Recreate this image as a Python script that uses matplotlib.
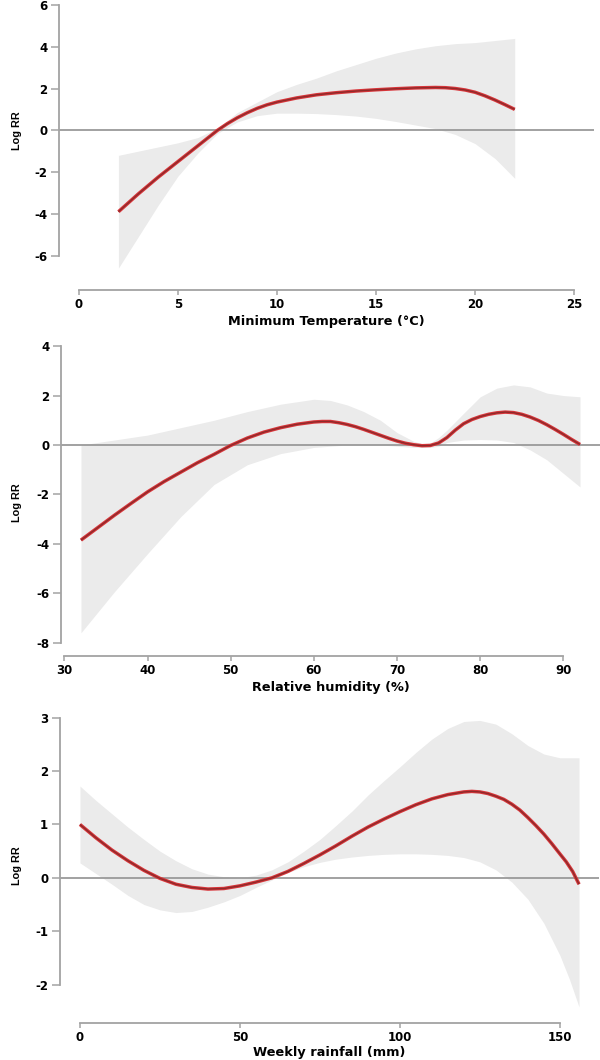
import matplotlib
matplotlib.use("Agg")
import matplotlib.pyplot as plt

# --- data ---

# minimum temperature (deg C): fitted curve
temp_x = [2, 3, 4, 5, 6, 7, 7.5, 8, 8.5, 9, 9.5, 10, 11, 12, 13, 14, 15, 16,
          17, 18, 18.5, 19, 19.5, 20, 20.5, 21, 21.5, 22]
temp_fit = [-3.9, -3.05, -2.25, -1.5, -0.75, 0.0, 0.32, 0.6, 0.84, 1.05, 1.22,
            1.35, 1.55, 1.7, 1.8, 1.88, 1.94, 1.99, 2.03, 2.05, 2.04, 2.0,
            1.93, 1.82, 1.65, 1.45, 1.23, 1.0]
# confidence band
temp_band_x = [2, 3, 4, 5, 6, 7, 8, 9, 10, 11, 12, 13, 14, 15, 16, 17, 18,
               19, 20, 21, 22]
temp_low = [-6.6, -5.1, -3.6, -2.2, -1.1, -0.15, 0.4, 0.7, 0.82, 0.82, 0.8,
            0.75, 0.68, 0.57, 0.42, 0.25, 0.08, -0.2, -0.64, -1.35, -2.3]
temp_up = [-1.2, -1.0, -0.8, -0.6, -0.35, 0.1, 0.85, 1.35, 1.85, 2.2, 2.5,
           2.85, 3.15, 3.45, 3.7, 3.9, 4.05, 4.15, 4.2, 4.3, 4.4]

# relative humidity (%)
hum_x = [32, 34, 36, 38, 40, 42, 44, 46, 48, 50, 52, 54, 56, 58, 60, 61, 62,
         63, 64, 65, 66, 67, 68, 69, 70, 71, 72, 73, 74, 75, 76, 77, 78, 79,
         80, 81, 82, 83, 84, 85, 86, 87, 88, 89, 90, 91, 92]
hum_fit = [-3.85, -3.35, -2.85, -2.37, -1.9, -1.48, -1.1, -0.72, -0.38, -0.02,
           0.28, 0.52, 0.7, 0.84, 0.93, 0.95, 0.95, 0.9, 0.83, 0.74, 0.63,
           0.51, 0.39, 0.27, 0.16, 0.07, 0.01, -0.03, -0.02, 0.08, 0.3, 0.6,
           0.86, 1.03, 1.15, 1.24, 1.3, 1.33, 1.31, 1.24, 1.13, 0.99, 0.82,
           0.63, 0.43, 0.22, 0.02]
hum_band_x = [32, 36, 40, 44, 48, 52, 56, 60, 62, 64, 66, 68, 70, 72, 73, 74,
              75, 76, 78, 80, 82, 84, 86, 88, 90, 92]
hum_low = [-7.6, -5.95, -4.4, -2.9, -1.6, -0.8, -0.35, -0.1, -0.05, 0.0, 0.0,
           0.0, -0.05, -0.1, -0.1, -0.1, -0.05, 0.1, 0.2, 0.22, 0.2, 0.1,
           -0.2, -0.6, -1.15, -1.7]
hum_up = [0.0, 0.2, 0.4, 0.7, 1.0, 1.35, 1.65, 1.85, 1.8, 1.62, 1.35, 1.0,
          0.5, 0.15, 0.05, 0.08, 0.3, 0.6, 1.28, 1.95, 2.3, 2.43, 2.35, 2.1,
          2.0, 1.95]

# weekly rainfall (mm)
rain_x = [0, 5, 10, 15, 20, 25, 30, 35, 40, 45, 50, 55, 60, 65, 70, 75, 80,
          85, 90, 95, 100, 105, 110, 115, 120, 122.5, 125, 127.5, 130, 132.5,
          135, 137.5, 140, 142.5, 145, 147.5, 150, 152, 154, 156]
rain_fit = [1.0, 0.75, 0.52, 0.32, 0.14, -0.01, -0.12, -0.18, -0.21, -0.2,
            -0.15, -0.08, 0.0, 0.12, 0.27, 0.43, 0.6, 0.78, 0.95, 1.1, 1.24,
            1.37, 1.48, 1.56, 1.61, 1.62, 1.61, 1.58, 1.53, 1.47, 1.38, 1.27,
            1.13, 0.98, 0.82, 0.64, 0.45, 0.3, 0.12, -0.12]
rain_band_x = [0, 5, 10, 15, 20, 25, 30, 35, 40, 45, 50, 55, 60, 65, 70, 75,
               80, 85, 90, 95, 100, 105, 110, 115, 120, 125, 130, 135, 140,
               145, 150, 153, 156]
rain_low = [0.28, 0.08, -0.12, -0.33, -0.5, -0.6, -0.65, -0.63, -0.55, -0.45,
            -0.33, -0.18, -0.04, 0.1, 0.21, 0.29, 0.35, 0.39, 0.42, 0.44, 0.45,
            0.45, 0.44, 0.42, 0.38, 0.3, 0.15, -0.08, -0.4, -0.85, -1.45, -1.9,
            -2.42]
rain_up = [1.72, 1.45, 1.2, 0.95, 0.72, 0.5, 0.32, 0.17, 0.07, 0.02, 0.0,
           0.05, 0.15, 0.3, 0.5, 0.72, 0.98, 1.25, 1.55, 1.82, 2.08, 2.35, 2.6,
           2.8, 2.93, 2.95, 2.88, 2.7, 2.48, 2.32, 2.25, 2.25, 2.25]

temp_xticks = [0, 5, 10, 15, 20, 25]
temp_yticks = [-6, -4, -2, 0, 2, 4, 6]
hum_xticks = [30, 40, 50, 60, 70, 80, 90]
hum_yticks = [-8, -6, -4, -2, 0, 2, 4]
rain_xticks = [0, 50, 100, 150]
rain_yticks = [-2, -1, 0, 1, 2, 3]

W, H = 600, 1060
AXIS_GREY = "#a3a3a3"
BAND = "#ebebeb"

fig = plt.figure(figsize=(W / 100, H / 100), dpi=100)
fig.patch.set_facecolor("white")


def add_panel(box, x, fit, bx, low, up, xlim, ylim, xticks, yticks, xlabel,
              ylab_y, xlab_pad=3):
    # box = (left, top, right, bottom) in pixels
    l, t, r, b = box
    ax = fig.add_axes([l / W, 1 - b / H, (r - l) / W, (b - t) / H])
    ax.set_facecolor("none")
    ax.fill_between(bx, low, up, color=BAND, lw=0, zorder=1)
    ax.axhline(0, color="#9a9a9a", lw=1.3, zorder=2)
    ax.plot(x, fit, color="#d8353a", lw=2.5, solid_joinstyle="round",
            solid_capstyle="butt", zorder=3)
    ax.plot(x, fit, color="#8e2a2a", lw=1.0, solid_joinstyle="round",
            solid_capstyle="butt", zorder=4)
    ax.set_xlim(*xlim)
    ax.set_ylim(*ylim)

    for s in ["top", "right"]:
        ax.spines[s].set_visible(False)
    for s in ["left", "bottom"]:
        ax.spines[s].set_color(AXIS_GREY)
        ax.spines[s].set_linewidth(1.3)
    ax.spines["left"].set_bounds(yticks[0], yticks[-1])
    ax.spines["bottom"].set_bounds(xticks[0], xticks[-1])

    ax.set_xticks(xticks)
    ax.set_yticks(yticks)
    ax.set_xticklabels([str(v) for v in xticks])
    ax.set_yticklabels([str(v) for v in yticks])
    ax.tick_params(axis="y", direction="out", length=6, width=1.1,
                   color=AXIS_GREY, pad=2.5)
    ax.tick_params(axis="x", direction="out", length=3.5, width=1.1,
                   color=AXIS_GREY, pad=2.2)
    for lab in ax.get_xticklabels() + ax.get_yticklabels():
        lab.set_fontfamily("DejaVu Sans")
        lab.set_fontweight("bold")
        lab.set_fontsize(8.5)
    ax.set_xlabel(xlabel, fontfamily="DejaVu Sans", fontweight="bold",
                  fontsize=9.3, labelpad=xlab_pad)
    fig.text(17 / W, 1 - ylab_y / H, "Log RR", rotation=90, ha="center",
             va="center", fontfamily="Liberation Sans", fontweight="bold",
             fontsize=7.8)
    return ax


add_panel((59, 0, 594, 290), temp_x, temp_fit, temp_band_x, temp_low, temp_up,
          (-1, 26), (-7.65, 6.24), temp_xticks, temp_yticks,
          "Minimum Temperature (°C)", 131)
add_panel((61, 335, 600, 656), hum_x, hum_fit, hum_band_x, hum_low, hum_up,
          (29.6, 94.4), (-8.54, 4.45), hum_xticks, hum_yticks,
          "Relative humidity (%)", 503)
add_panel((60, 706, 599, 1023), rain_x, rain_fit, rain_band_x, rain_low,
          rain_up, (-6.24, 162.24), (-2.72, 3.22), rain_xticks, rain_yticks,
          "Weekly rainfall (mm)", 866, xlab_pad=1.2)

fig.savefig("out.png", dpi=100)
